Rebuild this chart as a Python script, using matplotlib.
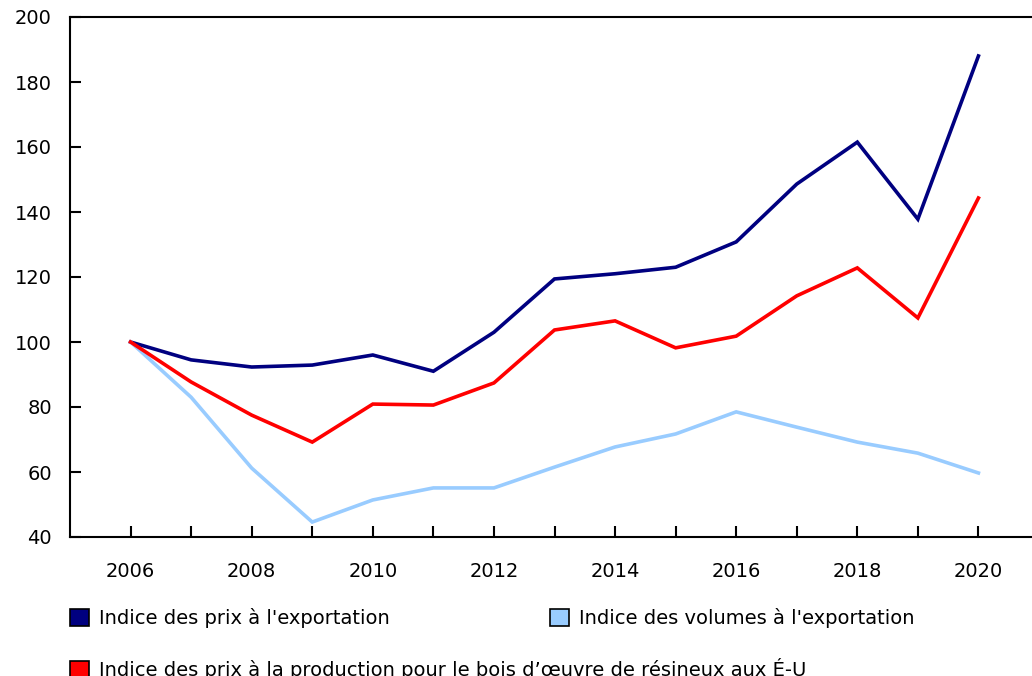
import matplotlib.pyplot as plt
from matplotlib.patches import Patch

# data
years = list(range(2006, 2021))
prix_export = [100, 94.5, 92.3, 92.9, 96.0, 91.0, 103.0, 119.4, 121.0, 123.0, 130.8, 148.6, 161.5, 137.8, 188.0]
volumes_export = [100, 83.0, 61.2, 44.6, 51.4, 55.1, 55.1, 61.5, 67.7, 71.7, 78.5, 73.8, 69.2, 65.8, 59.7]
prix_production = [100, 87.7, 77.5, 69.2, 80.9, 80.6, 87.4, 103.7, 106.5, 98.2, 101.8, 114.2, 122.8, 107.4, 144.3]

labels = ["Indice des prix à l'exportation",
          "Indice des volumes à l'exportation",
          "Indice des prix à la production pour le bois d\u2019\u0153uvre de résineux aux É-U"]
colors = ['#000080', '#99ccff', '#ff0000']

plt.rcParams['font.family'] = ['DejaVu Sans']
plt.rcParams['font.size'] = 14

fig = plt.figure(figsize=(10.32, 6.76), dpi=100)
ax = fig.add_axes([70/1032, 139/676, 969/1032, 520/676])

ax.plot(years, prix_export, color=colors[0], lw=2.6, solid_joinstyle='miter')
ax.plot(years, volumes_export, color=colors[1], lw=2.6, solid_joinstyle='miter')
ax.plot(years, prix_production, color=colors[2], lw=2.6, solid_joinstyle='miter')

ax.set_xlim(2005, 2021)
ax.set_ylim(40, 200)
ax.set_yticks(range(40, 201, 20))
ax.set_xticks(years)
ax.set_xticklabels([str(y) if y % 2 == 0 else '' for y in years])
ax.tick_params(axis='y', direction='in', length=8, width=1.5, pad=13)
ax.tick_params(axis='x', direction='in', length=8, width=1.5, pad=18)
for s in ['left', 'bottom', 'top']:
    ax.spines[s].set_linewidth(1.5)
ax.spines['right'].set_visible(False)

# legend: three single entries placed like the reference
positions = [(70/1032, 1 - 608/676), (550/1032, 1 - 608/676), (70/1032, 1 - 658/676)]
for lab, col, pos in zip(labels, colors, positions):
    fig.legend(handles=[Patch(facecolor=col, edgecolor='black', lw=1.2)], labels=[lab],
               loc='upper left', bbox_to_anchor=pos, frameon=False, fontsize=14,
               handlelength=1.0, handleheight=1.0, handletextpad=0.5, borderpad=0, borderaxespad=0)

fig.savefig('out.png', dpi=100)
